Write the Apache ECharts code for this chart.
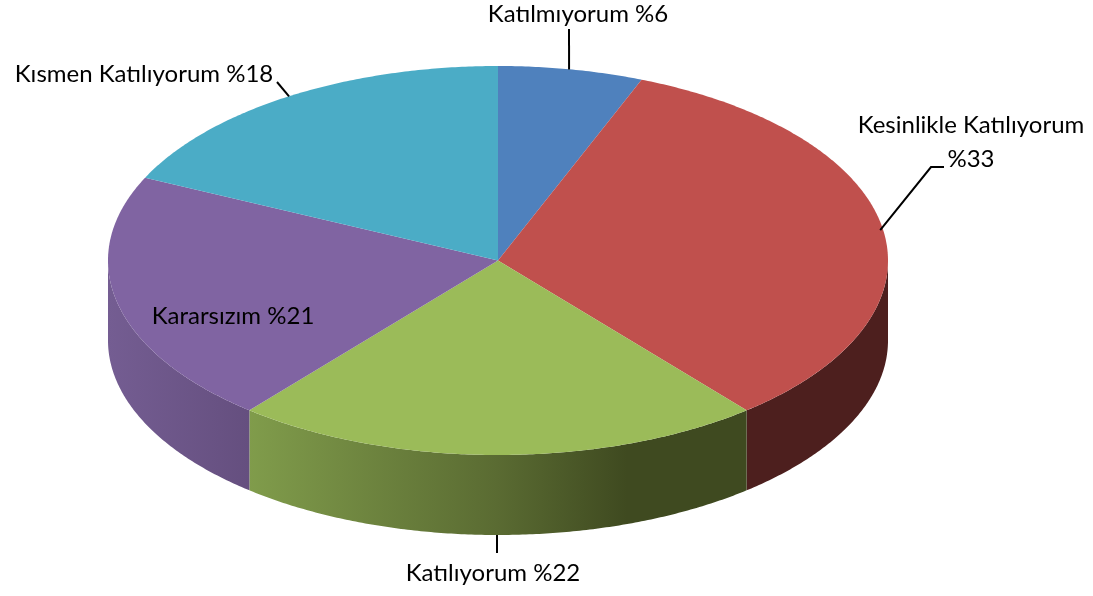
<!DOCTYPE html>
<html>
<head>
<meta charset="utf-8">
<style>
html, body { margin: 0; padding: 0; background: #fff; }
#main { width: 1093px; height: 596px; }
</style>
<script src="https://cdn.jsdelivr.net/npm/echarts@6/dist/echarts.min.js"></script>
</head>
<body>
<div id="main"></div>
<script>
// veriler
var dilimAdlari = ['Katılmıyorum', 'Kesinlikle Katılıyorum', 'Katılıyorum', 'Kararsızım', 'Kısmen Katılıyorum'];
var dilimDegerleri = [6, 33, 22, 21, 18];
var etiketler = ['Katılmıyorum %6', 'Kesinlikle Katılıyorum\n%33', 'Katılıyorum %22', 'Kararsızım %21', 'Kısmen Katılıyorum %18'];

var renkler = ['#4F81BD', '#C0504D', '#9BBB59', '#8064A2', '#4BACC6'];

// pastanın ekrandaki yeri
var cx = 498, cy = 260.5, rx = 390, ry = 194.5, derinlik = 80;

// etiket merkezleri, kılavuz çizgisi dirsekleri (dilim sırasıyla)
var etiketYeri = [[578, 14], [971, 142], [493, 573], [233, 316], [144, 74]];
var kilavuz = [
    [[569, 29]],
    [[944, 167], [931, 167]],
    [[497, 553]],
    null,
    [[277, 82]]
];
// kılavuz ucunun dilim ortasından kayması
var kilavuzKayma = [-2, -3, -1, 0, 0];

function yanRenk(i) {
    var s = null;
    if (i == 1) s = [[0, '#4d1f1e'], [1, '#4d1f1e']];
    if (i == 2) s = [[0, '#809c4b'], [0.5, '#5a6b32'], [0.76, '#3f4a20'], [1, '#3f4a20']];
    if (i == 3) s = [[0, '#745d92'], [1, '#654f7f']];
    if (!s) return '#000';
    // x aralığı her dilimde kendi kenarları
    var x1 = i == 2 ? 249 : (i == 3 ? 108 : 746);
    var x2 = i == 2 ? 746 : (i == 3 ? 249 : 888);
    return {
        type: 'linear', x: x1, y: 0, x2: x2, y2: 0, global: true,
        colorStops: s.map(function (c) { return { offset: c[0], color: c[1] }; })
    };
}

function nokta(aci, dy) {
    return [cx + rx * Math.sin(aci), cy - ry * Math.cos(aci) + (dy || 0)];
}

var toplam = dilimDegerleri.reduce(function (a, b) { return a + b; }, 0);

function renderDilim(params, api) {
    var i = params.dataIndex;
    var once = 0;
    for (var k = 0; k < i; k++) once += dilimDegerleri[k];
    var a0 = once / toplam * Math.PI * 2;
    var a1 = (once + api.value(0)) / toplam * Math.PI * 2;
    var adim = Math.PI / 360;
    var children = [];

    // yan duvar: sadece öndeki kısım
    var y0 = Math.max(a0, Math.PI / 2), y1 = Math.min(a1, Math.PI * 1.5);
    if (y1 > y0) {
        var ust = [], alt = [];
        for (var t = y0; t < y1; t += adim) {
            ust.push(nokta(t));
            alt.push(nokta(t, derinlik));
        }
        ust.push(nokta(y1));
        alt.push(nokta(y1, derinlik));
        children.push({
            type: 'polygon',
            shape: { points: ust.concat(alt.reverse()) },
            style: { fill: yanRenk(i) }
        });
    }

    // üst yüz
    var pts = [[cx, cy]];
    for (var u = a0; u < a1; u += adim) pts.push(nokta(u));
    pts.push(nokta(a1));
    children.push({
        type: 'polygon',
        z2: 5,
        shape: { points: pts },
        style: { fill: renkler[i] }
    });

    // kılavuz çizgisi, dilimin orta açısından çıkar
    if (kilavuz[i]) {
        var orta = (a0 + a1) / 2;
        var bas = nokta(orta, Math.cos(orta) < 0 ? derinlik : 0);
        bas[0] += kilavuzKayma[i];
        children.push({
            type: 'polyline',
            z2: 10,
            shape: { points: kilavuz[i].concat([bas]) },
            style: { stroke: '#000', lineWidth: 2, fill: null }
        });
    }

    children.push({
        type: 'text',
        z2: 20,
        x: etiketYeri[i][0],
        y: etiketYeri[i][1],
        style: {
            text: etiketler[i],
            fill: '#000',
            font: '24px Lato, "Open Sans", sans-serif',
            lineHeight: 34,
            align: 'center',
            verticalAlign: 'middle'
        }
    });

    return { type: 'group', children: children };
}

var chart = echarts.init(document.getElementById('main'), null, { renderer: 'canvas' });
var option = {
    animation: false,
    backgroundColor: '#fff',
    series: [
        {
            type: 'custom',
            coordinateSystem: 'none',
            renderItem: renderDilim,
            data: dilimDegerleri.map(function (v, i) { return { name: dilimAdlari[i], value: [v] }; })
        }
    ]
};
chart.setOption(option);
</script>
</body>
</html>
